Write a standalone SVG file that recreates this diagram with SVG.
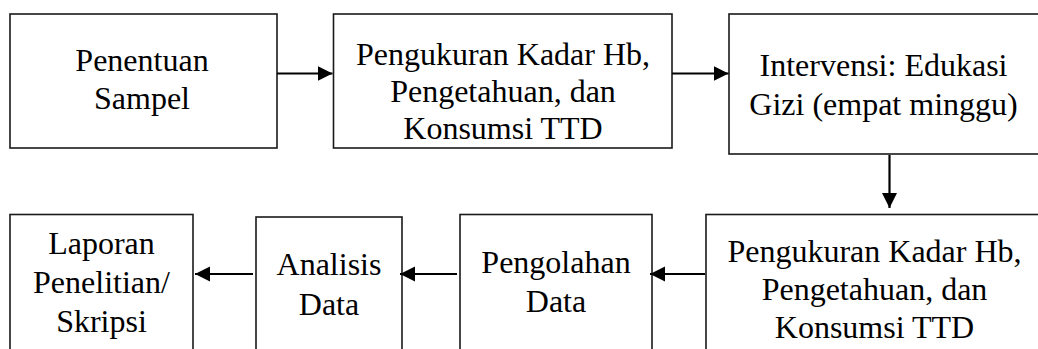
<svg xmlns="http://www.w3.org/2000/svg" width="1038" height="349" viewBox="0 0 1038 349">
<style>
.box{fill:#fff;stroke:#1a1a1a;stroke-width:1.6}
.lbl{font-family:'Liberation Serif','Times New Roman',serif;font-size:32px;fill:#000;text-anchor:middle}
.conn{stroke:#000;stroke-width:2.2;fill:none;marker-end:url(#ah)}
</style>
<defs>
<marker id="ah" markerUnits="userSpaceOnUse" markerWidth="16" markerHeight="16" refX="15" refY="7.5" orient="auto">
<path d="M0,0 L15,7.5 L0,15 Z" fill="#000"/>
</marker>
</defs>
<rect width="1038" height="349" fill="#fff"/>
<g id="n1">
<rect class="box" x="10" y="14" width="267" height="134"/>
<text class="lbl" x="142" y="71">Penentuan</text>
<text class="lbl" x="142" y="109">Sampel</text>
</g>
<g id="n2">
<rect class="box" x="333.5" y="14" width="338.5" height="134"/>
<text class="lbl" x="503" y="64.5">Pengukuran Kadar Hb,</text>
<text class="lbl" x="503" y="101.5">Pengetahuan, dan</text>
<text class="lbl" x="503" y="138.5">Konsumsi TTD</text>
</g>
<g id="n3">
<rect class="box" x="729" y="14" width="320" height="140"/>
<text class="lbl" x="883.5" y="76">Intervensi: Edukasi</text>
<text class="lbl" x="883.5" y="115">Gizi (empat minggu)</text>
</g>
<g id="n4">
<rect class="box" x="706" y="214.5" width="345" height="150"/>
<text class="lbl" x="874.5" y="262">Pengukuran Kadar Hb,</text>
<text class="lbl" x="874.5" y="300">Pengetahuan, dan</text>
<text class="lbl" x="874.5" y="338">Konsumsi TTD</text>
</g>
<g id="n5">
<rect class="box" x="460" y="214.5" width="192" height="150"/>
<text class="lbl" x="556" y="273">Pengolahan</text>
<text class="lbl" x="556" y="312">Data</text>
</g>
<g id="n6">
<rect class="box" x="256" y="217" width="146" height="150"/>
<text class="lbl" x="329" y="275">Analisis</text>
<text class="lbl" x="329" y="315">Data</text>
</g>
<g id="n7">
<rect class="box" x="10" y="214.5" width="183" height="150"/>
<text class="lbl" x="101.5" y="254">Laporan</text>
<text class="lbl" x="101.5" y="293">Penelitian/</text>
<text class="lbl" x="101.5" y="332">Skripsi</text>
</g>
<g id="connectors">
<line class="conn" x1="277" y1="73.5" x2="332.5" y2="73.5"/>
<line class="conn" x1="672" y1="73.5" x2="728.5" y2="73.5"/>
<line class="conn" x1="889.5" y1="155" x2="889.5" y2="208"/>
<line class="conn" x1="705" y1="274" x2="650" y2="274"/>
<line class="conn" x1="457" y1="274" x2="400" y2="274"/>
<line class="conn" x1="253" y1="274" x2="195" y2="274"/>
</g>
</svg>
